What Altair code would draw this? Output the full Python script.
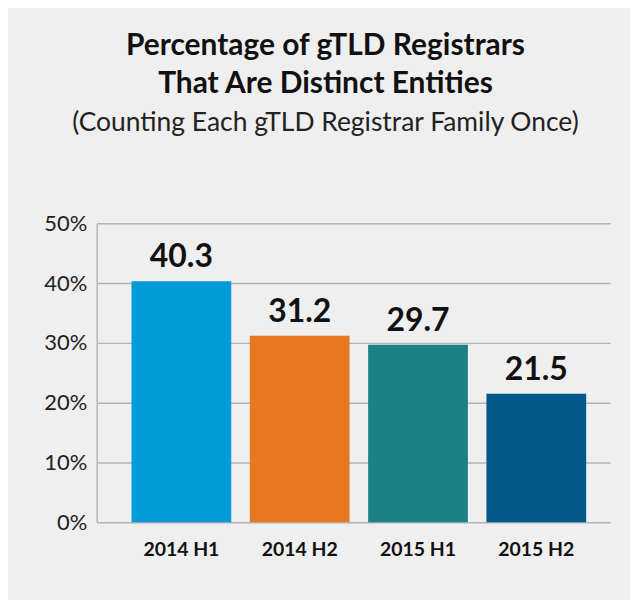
import altair as alt
import pandas as pd

periods = ["2014 H1", "2014 H2", "2015 H1", "2015 H2"]
values = [40.3, 31.2, 29.7, 21.5]
colors = ["#009ad6", "#e87722", "#1b8185", "#02578b"]
y_ticks = [0, 10, 20, 30, 40, 50]

df = pd.DataFrame({"period": periods, "value": values})

FONT = "Lato"

x_enc = alt.X(
    "period:N",
    sort=periods,
    title=None,
    scale=alt.Scale(paddingInner=0.157, paddingOuter=0.248, align=0.593),
    axis=alt.Axis(
        labelAngle=0, domain=False, ticks=False, labelFont=FONT,
        labelFontSize=19.5, labelFontWeight="bold", labelColor="#111111",
        labelPadding=18,
    ),
)

bars = alt.Chart(df).mark_bar().encode(
    x=x_enc,
    y=alt.Y(
        "value:Q",
        title=None,
        scale=alt.Scale(domain=[0, 50], nice=False),
        axis=alt.Axis(
            values=y_ticks, labelExpr="datum.value + '%'", ticks=False,
            domain=True, domainColor="#b4b4ba", domainWidth=1.5,
            gridColor="#b4b4ba", gridWidth=1.5, labelFont=FONT,
            labelFontSize=22, labelColor="#222222", labelPadding=10,
        ),
    ),
    color=alt.Color("period:N", sort=periods,
                    scale=alt.Scale(domain=periods, range=colors), legend=None),
)

labels = alt.Chart(df).mark_text(
    font=FONT, fontSize=32, fontWeight="bold", color="#111111",
    baseline="alphabetic", dy=-14,
).encode(
    x=alt.X("period:N", sort=periods),
    y=alt.Y("value:Q"),
    text=alt.Text("value:Q", format=".1f"),
)

chart = (bars + labels).properties(
    width=515,
    height=300,
    background="#efefef",
    padding={"left": 89, "top": 215, "right": 20, "bottom": 77},
    autosize=alt.AutoSizeParams(type="none"),
    title=alt.TitleParams(
        text=["Percentage of gTLD Registrars", "That Are Distinct Entities"],
        subtitle="(Counting Each gTLD Registrar Family Once)",
        font=FONT, fontSize=30, fontWeight="bold", color="#111111",
        lineHeight=38, subtitleFont=FONT, subtitleFontSize=26.5,
        subtitleColor="#222222", subtitlePadding=11,
        anchor="middle", dx=-28, offset=76,
    ),
).configure_view(stroke=None)

chart.save("out.html", embed_options={"renderer": "svg", "actions": False})
